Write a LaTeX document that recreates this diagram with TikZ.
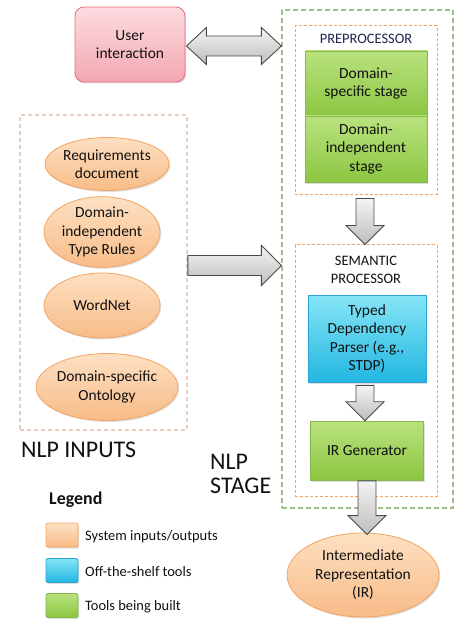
\documentclass[tikz,border=0pt]{standalone}
\usepackage{fontspec}
\setmainfont{Carlito}
\usetikzlibrary{shapes.geometric,calc,shadows}
\definecolor{txt}{HTML}{111111}
\definecolor{navy}{HTML}{1F2550}
\definecolor{pinkT}{HTML}{FBDCE0}
\definecolor{pinkB}{HTML}{F4A7B1}
\definecolor{pinkD}{HTML}{E0707E}
\definecolor{orT}{HTML}{FDE0C2}
\definecolor{orB}{HTML}{F8BC88}
\definecolor{orD}{HTML}{F3A462}
\definecolor{grT}{HTML}{B9E27E}
\definecolor{grB}{HTML}{8CC641}
\definecolor{grD}{HTML}{86B84A}
\definecolor{cyT}{HTML}{86E6F7}
\definecolor{cyB}{HTML}{22B6E0}
\definecolor{cyD}{HTML}{2AA5CF}
\definecolor{stageD}{HTML}{9DC08B}
\definecolor{inD}{HTML}{EACDC2}
\definecolor{arT}{HTML}{F4F4F4}
\definecolor{arB}{HTML}{BDBDBD}
\definecolor{arD}{HTML}{4A4A4A}
\newcommand\fatdown[2]{%
  \draw[fatarrow] let \p1=(#1), \p2=(#2) in
    (\x1-9bp,\y1) -- (\x1+9bp,\y1) -- (\x1+9bp,\y2+19bp) -- (\x1+19bp,\y2+19bp)
    -- (\x1,\y2) -- (\x1-19bp,\y2+19bp) -- (\x1-9bp,\y2+19bp) -- cycle;}
\begin{document}
\begin{tikzpicture}[x=1bp,y=-1bp,
  every node/.style={text=txt, font=\fontsize{15.5}{18.5}\selectfont, align=center, inner sep=2bp},
  shadowed/.style={drop shadow={opacity=0.25, shadow xshift=1.2bp, shadow yshift=-1.5bp}},
  pinkbox/.style={rectangle, rounded corners=9bp, draw=pinkD, line width=0.8bp, top color=pinkT, bottom color=pinkB, shadowed},
  greenbox/.style={rectangle, draw=grD, line width=0.6bp, top color=grT, bottom color=grB, shadowed},
  cyanbox/.style={rectangle, draw=cyD, line width=0.6bp, top color=cyT, bottom color=cyB, shadowed},
  inputell/.style={ellipse, draw=orD, line width=0.8bp, top color=orT, bottom color=orB, shadowed, inner sep=0pt},
  stagebox/.style={rectangle, draw=stageD, line width=1.2bp, dash pattern=on 5bp off 3bp},
  procbox/.style={rectangle, draw=orD, line width=1bp, dash pattern=on 3bp off 2bp},
  inbox/.style={rectangle, draw=inD, line width=1.6bp, dash pattern=on 4bp off 3bp},
  fatarrow/.style={draw=arD, line width=0.9bp, top color=arT, bottom color=arB, line join=miter},
  swatch/.style={rectangle, rounded corners=1.5bp, line width=0.8bp, minimum width=32bp, minimum height=24bp, shadowed},
  legtext/.style={anchor=west, font=\fontsize{14.5}{16}\selectfont},
  bigtext/.style={font=\fontsize{24}{25}\selectfont, anchor=west, align=left}
]
\useasboundingbox (0,0) rectangle (474,630);

% containers
\node[stagebox, minimum width=171bp, minimum height=498bp] (stage) at (367.5,259) {};
\node[inbox, minimum width=167bp, minimum height=315bp] (inputs) at (103.5,272.5) {};
\node[procbox, minimum width=142bp, minimum height=168bp] (pre) at (366,110) {};
\node[procbox, minimum width=142bp, minimum height=251bp] (sem) at (366,370.5) {};

% labels
\node[text=navy, font=\fontsize{14.5}{17}\selectfont] (prelab) at (366,38.5) {PREPROCESSOR};
\node[font=\fontsize{14.5}{17.5}\selectfont] (semlab) at (366,270) {SEMANTIC\\PROCESSOR};

% user
\node[pinkbox, minimum width=110bp, minimum height=75bp] (user) at (130,44.5) {User\\interaction};

% preprocessor stages
\node[greenbox, minimum width=122bp, minimum height=65bp] (ds) at (366,83.5) {Domain-\\specific stage};
\node[greenbox, minimum width=122bp, minimum height=66bp] (di) at (366,149) {Domain-\\independent\\stage};

% semantic processor
\node[cyanbox, minimum width=118bp, minimum height=87bp] (tdp) at (367,338.5) {Typed\\Dependency\\Parser (e.g.,\\STDP)};
\node[greenbox, minimum width=113bp, minimum height=59bp] (irg) at (367,450.5) {IR Generator};

% output
\node[inputell, minimum width=152bp, minimum height=84bp] (ir) at (363,575) {Intermediate\\Representation\\(IR)};

% inputs
\node[inputell, minimum width=114bp, minimum height=53bp] (req) at (107,164) {Requirements\\document};
\node[inputell, minimum width=116bp, minimum height=64bp] (rules) at (102,232) {Domain-\\independent\\Type Rules};
\node[inputell, minimum width=116bp, minimum height=65bp] (wn) at (102,305.5) {WordNet};
\node[inputell, minimum width=114bp, minimum height=67bp] (onto) at (107,387) {Domain-specific\\Ontology};

% big labels
\node[bigtext] (nlpin) at (19,450) {NLP INPUTS};
\node[bigtext, font=\fontsize{24}{24}\selectfont] (nlpst) at (208,474) {NLP\\STAGE};

% legend
\node[anchor=west, font=\bfseries\fontsize{18}{20}\selectfont] (leg) at (47,500) {Legend};
\node[swatch, draw=orD, top color=orT, bottom color=orB] (sw1) at (62,535) {};
\node[swatch, draw=cyD, top color=cyT, bottom color=cyB] (sw2) at (62,570.5) {};
\node[swatch, draw=grD, top color=grT, bottom color=grB] (sw3) at (62,605.5) {};
\node[legtext] (l1) at (83,537) {System inputs/outputs};
\node[legtext] (l2) at (83,572) {Off-the-shelf tools};
\node[legtext] (l3) at (83,607) {Tools being built};

% block arrows
\coordinate (dA) at ($(user.east)+(1bp,-1.5bp)$);
\coordinate (dB) at (stage.west |- dA);
\draw[fatarrow] let \p1=(dA), \p2=(dB) in
  (\x1,\y1) -- (\x1+20bp,\y1+18.5bp) -- (\x1+20bp,\y1+10bp) -- (\x2-20bp,\y1+10bp)
  -- (\x2-20bp,\y1+18.5bp) -- (\x2,\y1) -- (\x2-20bp,\y1-18.5bp) -- (\x2-20bp,\y1-10bp)
  -- (\x1+20bp,\y1-10bp) -- (\x1+20bp,\y1-18.5bp) -- cycle;

\coordinate (hA) at (inputs.east |- 0,265.5);
\coordinate (hB) at (stage.west |- hA);
\draw[fatarrow] let \p1=(hA), \p2=(hB) in
  (\x1,\y1+10bp) -- (\x2-20bp,\y1+10bp) -- (\x2-20bp,\y1+20bp) -- (\x2,\y1)
  -- (\x2-20bp,\y1-20bp) -- (\x2-20bp,\y1-10bp) -- (\x1,\y1-10bp) -- cycle;

\coordinate (a1) at ($(pre.south)+(-1bp,-4bp)$);
\fatdown{a1}{sem.north}
\coordinate (a2) at ($(tdp.south)+(-2bp,-3bp)$);
\fatdown{a2}{irg.north}
\coordinate (a3) at ($(irg.south)+(0,-0.5bp)$);
\coordinate (a3e) at ($(ir.north)+(4bp,-2bp)$);
\fatdown{a3}{a3e}
\end{tikzpicture}
\end{document}
